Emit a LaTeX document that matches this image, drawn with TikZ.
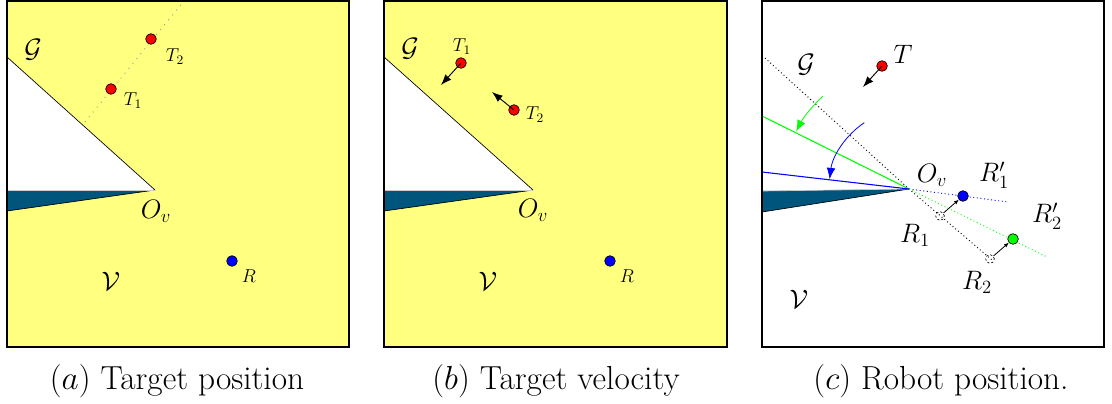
\RequirePackage{fix-cm}
\documentclass[tikz,border=0pt]{standalone}
\usetikzlibrary{arrows.meta}
\definecolor{bgyellow}{RGB}{255,255,128}
\definecolor{wedgeblue}{RGB}{0,85,125}
\definecolor{dotgreen}{RGB}{0,255,0}
\definecolor{dotblue}{RGB}{0,0,255}
\begin{document}
\begin{tikzpicture}[x=0.75pt,y=-0.75pt,
  frame/.style={line width=1.1pt},
  edge/.style={line width=0.5pt},
  dot/.style={circle,draw=black,line width=0.5pt,inner sep=0pt,minimum size=8pt},
  ghost/.style={circle,draw=black,line width=0.5pt,dash pattern=on 1.6pt off 1.6pt,inner sep=0pt,minimum size=6.5pt},
  big/.style={font=\fontsize{20}{24}\selectfont,inner sep=0pt},
  small/.style={font=\fontsize{14}{17}\selectfont,inner sep=0pt},
  caption/.style={font=\fontsize{25}{30}\selectfont,inner sep=0pt},
  vel/.style={-{Latex[length=8pt,width=6pt]},line width=0.7pt},
  shiftarr/.style={-{Latex[length=3.5pt,width=3pt]},line width=0.6pt},
  turn/.style={-{Latex[length=8.5pt,width=6.5pt]},line width=0.6pt},
  guide/.style={dotted,line width=0.7pt},
  sparse/.style={dash pattern=on 0.7pt off 4pt,line width=0.7pt}]
\useasboundingbox (0,0) rectangle (1112,403);

% ---------------- panel (a) ----------------
\fill[bgyellow] (7,1) rectangle (349,347);
\fill[white] (7,57) -- (155,190) -- (7,190) -- cycle;
\draw[edge] (7,57) -- (155,190);
\fill[wedgeblue] (7,190) -- (155,190) -- (7,211) -- cycle;
\draw[edge] (155,190) -- (7,211);
\draw[gray!40,edge] (7,190) -- (155,190);
\coordinate (aD1) at (85,122);
\coordinate (aD2) at (184,1);
\draw[sparse,gray!80] (aD1) -- (aD2);
\draw[frame] (7,1) rectangle (349,347);
\node[dot,fill=red] (aT1) at (111,89) {};
\node[dot,fill=red] (aT2) at (151,39) {};
\node[dot,fill=dotblue] (aR) at (232,261) {};
\node[small] (aT1l) at (133,101) {$T_1$};
\node[small] (aT2l) at (175,57) {$T_2$};
\node[small] (aRl) at (249,276) {$R$};
\node[big] (aG) at (33,50) {$\mathcal{G}$};
\node[big] (aV) at (111,281) {$\mathcal{V}$};
\node[big] (aO) at (156,211) {$O_v$};

% ---------------- panel (b) ----------------
\fill[bgyellow] (384,1) rectangle (727,347);
\fill[white] (384,57) -- (533,190) -- (384,190) -- cycle;
\draw[edge] (384,57) -- (533,190);
\fill[wedgeblue] (384,190) -- (533,190) -- (384,211) -- cycle;
\draw[edge] (533,190) -- (384,211);
\draw[gray!40,edge] (384,190) -- (533,190);
\draw[frame] (384,1) rectangle (727,347);
\node[dot,fill=red] (bT1) at (461,63) {};
\node[dot,fill=red] (bT2) at (514,110) {};
\node[dot,fill=dotblue] (bR) at (610,261) {};
\coordinate (bV1) at (441,85);
\coordinate (bV2) at (492,92);
\draw[vel] (bT1.center) -- (bV1);
\draw[vel] (bT2.center) -- (bV2);
\node[small] (bT1l) at (462,47) {$T_1$};
\node[small] (bT2l) at (535,115) {$T_2$};
\node[small] (bRl) at (627,276) {$R$};
\node[big] (bG) at (410,49) {$\mathcal{G}$};
\node[big] (bV) at (488,281) {$\mathcal{V}$};
\node[big] (bO) at (533,210) {$O_v$};

% ---------------- panel (c) ----------------
\coordinate (cOv) at (909,189);
\coordinate (cGa) at (765,58);
\coordinate (cGb) at (992,260);
\coordinate (cGreenEnd) at (762,116);
\coordinate (cBlueEnd) at (762,172);
\coordinate (cBlueDot) at (1008,202);
\coordinate (cGreenDot) at (1047,257);
\fill[wedgeblue] (762,191) -- (cOv) -- (762,212) -- cycle;
\draw[edge] (cOv) -- (762,212);
\draw[gray!40,edge] (762,191) -- (cOv);
\draw[guide,black] (cGa) -- (cOv) -- (cGb);
\draw[guide,dotblue] (cOv) -- (cBlueDot);
\draw[guide,dotgreen] (cOv) -- (cGreenDot);
\draw[dotgreen,line width=0.8pt] (cGreenEnd) -- (cOv);
\draw[dotblue,line width=0.8pt] (cBlueEnd) -- (cOv);
\draw[turn,dotgreen] ([shift={(133:95pt)}]cOv) arc[start angle=133,end angle=153,radius=95pt];
\draw[turn,dotblue] ([shift={(124:60pt)}]cOv) arc[start angle=124,end angle=173,radius=60pt];
\draw[frame] (762,1) rectangle (1104,347);
\node[dot,fill=red] (cT) at (882,66) {};
\coordinate (cTv) at (863,87);
\draw[vel] (cT.center) -- (cTv);
\node[dot,fill=dotblue] (cR1p) at (963,196) {};
\node[dot,fill=dotgreen] (cR2p) at (1013,239) {};
\node[ghost] (cR1) at (940,216) {};
\node[ghost] (cR2) at (990,259) {};
\draw[shiftarr] (cR1) -- (cR1p);
\draw[shiftarr] (cR2) -- (cR2p);
\node[big] (cTl) at (903,54) {$T$};
\node[big] (cG) at (806,65) {$\mathcal{G}$};
\node[big] (cOl) at (932,175) {$O_v$};
\node[big] (cR1pl) at (994,175) {$R'_1$};
\node[big] (cR2pl) at (1047,216) {$R'_2$};
\node[big] (cR1l) at (915,235) {$R_1$};
\node[big] (cR2l) at (977,282) {$R_2$};
\node[big] (cV) at (799,299) {$\mathcal{V}$};

% ---------------- captions ----------------
\node[caption] (capa) at (177,381) {$(a)$ Target position};
\node[caption] (capb) at (556,381) {$(b)$ Target velocity};
\node[caption] (capc) at (941,381) {$(c)$ Robot position.};
\end{tikzpicture}
\end{document}
